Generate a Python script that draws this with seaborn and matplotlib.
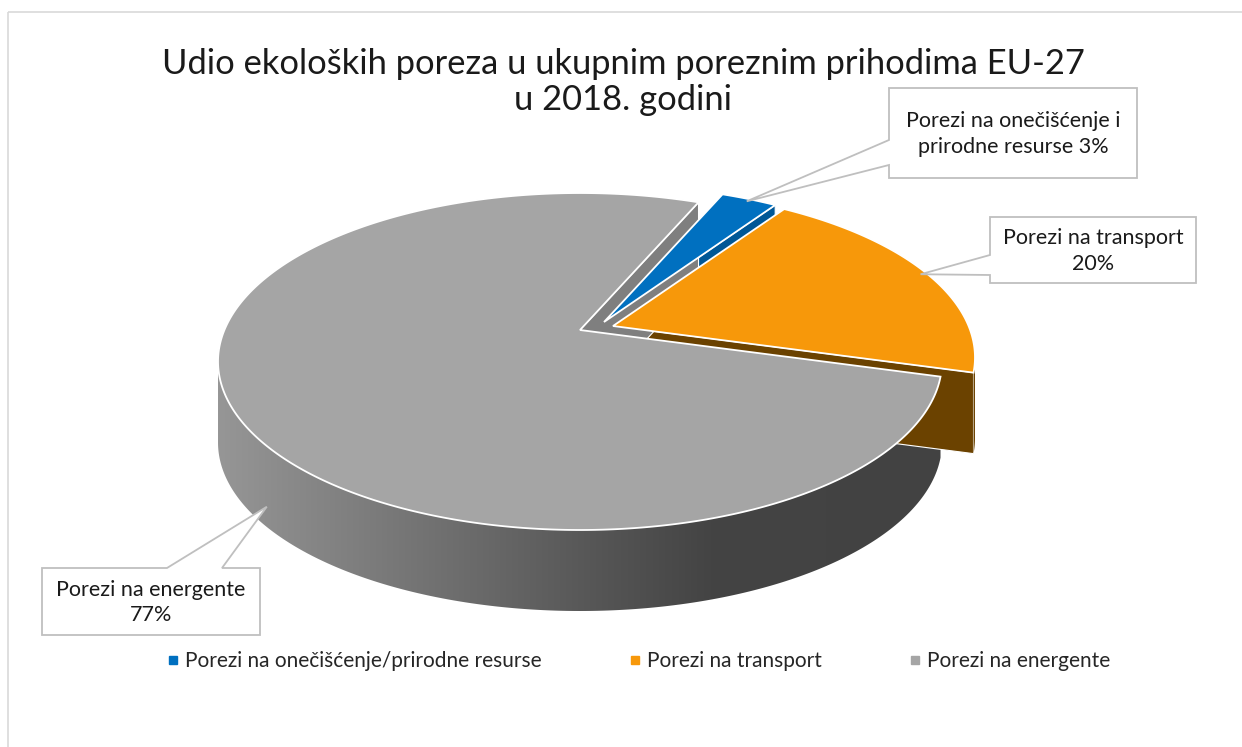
import numpy as np
import seaborn as sns
import matplotlib
matplotlib.use("Agg")
import matplotlib.pyplot as plt
from matplotlib.patches import Polygon, Rectangle
from matplotlib.lines import Line2D
from matplotlib.colors import LinearSegmentedColormap

# data
categories = ["Porezi na onečišćenje/prirodne resurse", "Porezi na transport", "Porezi na energente"]
shares = [3, 20, 77]
callout_names = ["Porezi na onečišćenje i\nprirodne resurse", "Porezi na transport", "Porezi na energente"]
callout_seps = [" ", "\n", "\n"]
title = "Udio ekoloških poreza u ukupnim poreznim prihodima EU-27\nu 2018. godini"

top_colors = sns.color_palette(["#0070c0", "#f7980a", "#a5a5a5"])
cut_colors = ["#005796", "#6b4200", "#7f7f7f"]

sns.set_style("white")
plt.rcParams["font.family"] = ["Lato", "DejaVu Sans"]

W, H = 1242, 747
fig = plt.figure(figsize=(W / 100, H / 100), dpi=100)
ax = fig.add_axes([0, 0, 1, 1])
ax.set_xlim(0, W)
ax.set_ylim(H, 0)
ax.axis("off")

# chart area frame (right/bottom fall outside the image)
ax.add_patch(Rectangle((8, 12), 1260, 780, fill=False, ec="#d9d9d9", lw=1.2))

# 3d pie geometry (pixel space, simple perspective)
CX, CY = 580, 330
A, B, K = 355.6, 162.6, 0.187
DEPTH = 81
FIRST_ANGLE = 23
explode = [(24, -8), (33, -4), (0, 0)]


def project(theta, r=1.0, drop=0.0, off=(0, 0)):
    th = np.radians(theta)
    u = r * np.sin(th)
    v = -r * np.cos(th)
    w = 1 - K * v
    return off[0] + CX + A * u / w, off[1] + CY + B * v / w + drop * DEPTH


def rim(t0, t1, drop=0.0, off=(0, 0)):
    ts = np.linspace(t0, t1, max(int(abs(t1 - t0) * 2), 2))
    x, y = project(ts, drop=drop, off=off)
    return list(zip(x, y))


bounds = FIRST_ANGLE + 360 * np.cumsum([0] + shares) / sum(shares)
sil = np.degrees(np.arccos(-K))  # silhouette angles of the side wall

cut_faces, walls, tops = [], [], []
for i in range(len(shares)):
    t0, t1 = bounds[i], bounds[i + 1]
    off = explode[i]
    apex = (CX + off[0], CY + off[1])
    apex_low = (CX + off[0], CY + off[1] + DEPTH)
    for t, vis in [(t0, np.sin(np.radians(t0)) < 0), (t1, np.sin(np.radians(t1)) > 0)]:
        if vis:
            p_top = project(t, off=off)
            p_low = project(t, drop=1, off=off)
            cut_faces.append(Polygon([apex, p_top, p_low, apex_low], closed=True,
                                     fc=cut_colors[i], ec="white", lw=0.8))
    a0, a1 = max(t0, sil), min(t1, 360 - sil)
    if a1 > a0:
        pts = rim(a0, a1, off=off) + rim(a1, a0, drop=1, off=off)
        walls.append((i, Polygon(pts, closed=True, fc=cut_colors[i], ec="none")))
    tops.append(Polygon([apex] + rim(t0, t1, off=off), closed=True,
                        fc=top_colors[i], ec="white", lw=1.3))

for p in cut_faces:
    ax.add_patch(p)

wall_cmap = LinearSegmentedColormap.from_list(
    "wall", [(0, "#969696"), (0.25, "#777777"), (0.53, "#555555"), (0.68, "#444444"), (1, "#424242")])
for i, p in walls:
    ax.add_patch(p)
    if i == 2:
        p.set_facecolor("none")
        grad = np.linspace(0, 1, 256).reshape(1, -1)
        im = ax.imshow(grad, cmap=wall_cmap, aspect="auto",
                       extent=(CX - A * 1.02, CX + A * 1.02, CY + B * 1.3 + DEPTH, CY - 20))
        im.set_clip_path(p)

for p in tops:
    ax.add_patch(p)
ax.set_xlim(0, W)
ax.set_ylim(H, 0)

# data callouts
boxes = [(889, 88, 1137, 178), (990, 217, 1196, 283), (42, 568, 260, 635)]
wedges = [("left", 140, 165), ("left", 255, 275), ("top", 167, 222)]
tips = [((bounds[0] + bounds[1]) / 2, 0.98, 0.0), ((bounds[1] + bounds[2]) / 2, 0.98, 0.0), (231, 1.0, 0.75)]
for i in range(len(shares)):
    x0, y0, x1, y1 = boxes[i]
    side, s0, s1 = wedges[i]
    th, r, dr = tips[i]
    tip = project(th, r=r, drop=dr, off=explode[i])
    if side == "left":
        pts = [(x0, y0), (x1, y0), (x1, y1), (x0, y1), (x0, s1), tip, (x0, s0)]
    else:
        pts = [(x0, y0), (s0, y0), tip, (s1, y0), (x1, y0), (x1, y1), (x0, y1)]
    ax.add_patch(Polygon(pts, closed=True, fc="white", ec="#bfbfbf", lw=1.3, zorder=5))
    ax.text((x0 + x1) / 2, (y0 + y1) / 2 + 1, f"{callout_names[i]}{callout_seps[i]}{shares[i]}%",
            ha="center", va="center", fontsize=15.5, color="#1a1a1a", linespacing=1.35, zorder=6)

ax.text(623, 82, title, ha="center", va="center", fontsize=24.8, color="#1a1a1a", linespacing=1.15)

handles = [Line2D([0], [0], marker="s", ls="", mfc=c, mec=c, ms=6) for c in top_colors]
ax.legend(handles, categories, loc="center", bbox_to_anchor=(0.5145, 1 - 661 / H), ncol=3,
          frameon=False, fontsize=15, handlelength=0.5, handletextpad=0.35, columnspacing=4.2,
          labelcolor="#262626")

fig.savefig("out.png", dpi=100)
